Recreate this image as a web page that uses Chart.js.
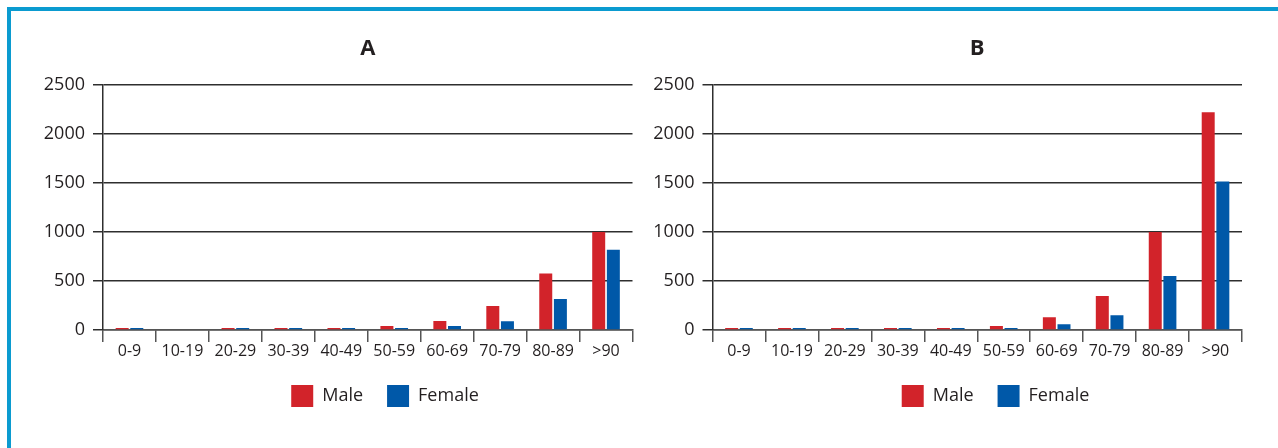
<!DOCTYPE html>
<html>
<head>
<meta charset="utf-8">
<script src="https://cdn.jsdelivr.net/npm/chart.js@4.4.1/dist/chart.umd.min.js"></script>
<style>
  html, body { margin: 0; padding: 0; width: 1278px; height: 448px; overflow: hidden; background: #fff; }
  .frame { position: absolute; left: 7px; top: 7px; width: 1300px; height: 460px;
           border-top: 4px solid #0b9bd0; border-left: 4px solid #0b9bd0; }
  canvas { position: absolute; top: 0; }
  #chartA { left: 0; }
  #chartB { left: 640px; }
</style>
</head>
<body>
<div class="frame"></div>
<canvas id="chartA" width="770" height="448"></canvas>
<canvas id="chartB" width="711" height="448"></canvas>
<script>
'use strict';

// age groups on the x axis
var AGE_GROUPS = ['0-9', '10-19', '20-29', '30-39', '40-49', '50-59', '60-69', '70-79', '80-89', '>90'];
var SERIES_NAMES = ['Male', 'Female'];
var Y_TICKS = [0, 500, 1000, 1500, 2000, 2500];

// panel A
var MALE_A = [20, 0, 20, 20, 20, 40, 93, 245, 576, 1000];
var FEMALE_A = [20, 0, 20, 20, 20, 20, 41, 90, 316, 818];

// panel B
var MALE_B = [20, 20, 20, 20, 20, 40, 130, 346, 1000, 2223];
var FEMALE_B = [20, 20, 20, 20, 20, 20, 59, 151, 552, 1516];

var RED = '#d2232a';
var BLUE = '#0058a8';
var INK = '#231f20';
var RULE = '#2e2e2e';

Chart.defaults.font.family = '"Open Sans", "DejaVu Sans", sans-serif';
Chart.defaults.color = INK;

/** one panel; leftWidth / rightWidth pin the plot area inside the canvas */
function buildChart(canvasId, title, male, female, leftWidth, rightWidth) {
  var canvas = document.getElementById(canvasId);
  return new Chart(canvas, {
    type: 'bar',
    data: {
      labels: AGE_GROUPS,
      datasets: [
        { label: SERIES_NAMES[0], data: male, backgroundColor: RED, borderWidth: 0 },
        { label: SERIES_NAMES[1], data: female, backgroundColor: BLUE, borderWidth: 0 }
      ]
    },
    options: {
      responsive: false,
      animation: false,
      categoryPercentage: 0.553,
      barPercentage: 0.887,
      layout: { padding: { top: 0, left: 0, right: 0, bottom: 31 } },
      plugins: {
        tooltip: { enabled: false },
        title: {
          display: true,
          text: title,
          fullSize: false,
          color: INK,
          font: { size: 22, weight: 'bold' },
          padding: { top: 36, bottom: 22.6 }
        },
        legend: {
          position: 'bottom',
          labels: {
            boxWidth: 22,
            boxHeight: 22,
            padding: 24,
            color: INK,
            font: { size: 18 }
          }
        }
      },
      scales: {
        x: {
          grid: {
            offset: true,
            drawOnChartArea: false,
            drawTicks: true,
            tickLength: 12,
            color: '#555',
            lineWidth: 1.5
          },
          border: { display: true, color: '#555', width: 1.5 },
          ticks: { color: INK, font: { size: 16 }, padding: 0, maxRotation: 0, autoSkip: false },
          afterFit: function (scale) { scale.height = 31; }
        },
        y: {
          min: Y_TICKS[0],
          max: Y_TICKS[Y_TICKS.length - 1],
          grid: { color: RULE, lineWidth: 1.5, tickLength: 10 },
          border: { display: true, color: RULE, width: 1.5 },
          ticks: {
            stepSize: Y_TICKS[1] - Y_TICKS[0],
            color: INK,
            font: { size: 18 },
            padding: 8,
            callback: function (v) { return String(v); }
          },
          afterFit: function (scale) { scale.width = leftWidth; }
        },
        yr: {
          position: 'right',
          display: true,
          grid: { display: false, drawTicks: false },
          border: { display: false },
          ticks: { display: false },
          afterFit: function (scale) { scale.width = rightWidth; }
        }
      }
    }
  });
}

buildChart('chartA', 'A', MALE_A, FEMALE_A, 103, 137.5);
buildChart('chartB', 'B', MALE_B, FEMALE_B, 72.5, 109);
</script>
</body>
</html>
